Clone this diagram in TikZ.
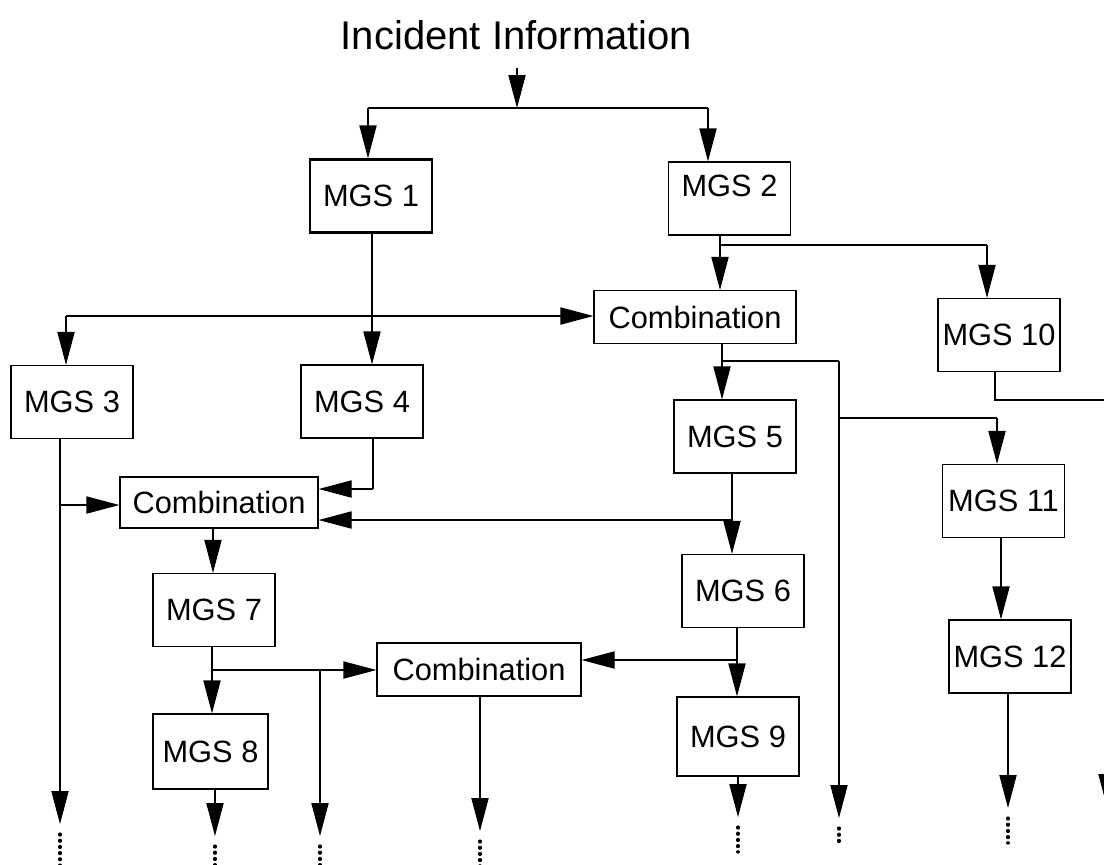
\documentclass[tikz,border=0pt]{standalone}
\usepackage{fontspec}
\setmainfont{Liberation Sans}
\usetikzlibrary{arrows.meta}
\begin{document}
\begin{tikzpicture}[x=0.5pt,y=-0.5pt,
  box/.style={draw, line width=0.6pt, inner sep=0pt, align=center,
    font=\fontsize{15.4}{18}\selectfont},
  wbox/.style={box, minimum width=61pt, minimum height=36.5pt},
  cbox/.style={box, minimum width=101pt, minimum height=26.5pt},
  wire/.style={line width=0.6pt},
  arr/.style={wire, -{Triangle[length=16.5pt,width=8.6pt]}},
  trail/.style={line width=1.6pt, line cap=round, dash pattern=on 0.5pt off 2.6pt}]
\useasboundingbox (0,0) rectangle (1104,864);
\clip (0,0) rectangle (1104,864);
\fill[white] (0,0) rectangle (1104,864);

% title
\node[anchor=base, font=\fontsize{20}{24}\selectfont, inner sep=0pt] (title) at (516.5,49) {Incident Information};

% blocks
\node[wbox, line width=1.1pt] (m1) at (371,196) {MGS 1};
\node[wbox, text depth=13pt] (m2) at (729.5,198.5) {MGS 2};
\node[cbox] (c2) at (695,317) {Combination};
\node[wbox] (m10) at (999,335) {MGS 10};
\node[wbox] (m3) at (72,402) {MGS 3};
\node[wbox] (m4) at (362,401.5) {MGS 4};
\node[wbox] (m5) at (735,436.5) {MGS 5};
\node[cbox, minimum width=99pt, minimum height=25.5pt] (c1) at (219,502.5) {Combination};
\node[wbox] (m11) at (1003.5,501) {MGS 11};
\node[wbox] (m6) at (743,591) {MGS 6};
\node[wbox] (m7) at (214,610) {MGS 7};
\node[cbox, minimum width=102pt] (c3) at (479,669.5) {Combination};
\node[wbox] (m12) at (1010,656.5) {MGS 12};
\node[wbox, minimum width=57.5pt, minimum height=37.5pt] (m8) at (210.5,751.5) {MGS 8};
\node[wbox, minimum height=39.5pt] (m9) at (738,736.5) {MGS 9};

% junction points and free ends
\coordinate (t0) at (517,68);
\coordinate (tl) at (368,108);
\coordinate (tr) at (708,108);
\coordinate (tm) at (517,108);
\coordinate (h1l) at (66,316);
\coordinate (x14) at (372,0);
\coordinate (x2) at (720,0);
\coordinate (j2) at (720,245);
\coordinate (j10) at (987,245);
\coordinate (xc2) at (722,0);
\coordinate (jc2) at (722,361);
\coordinate (v1) at (839,361);
\coordinate (v1a) at (839,418);
\coordinate (j11) at (997,418);
\coordinate (e1) at (839,818);
\coordinate (x10) at (995,0);
\coordinate (k10) at (995,400);
\coordinate (k10r) at (1107,400);
\coordinate (e10) at (1107,807);
\coordinate (x11) at (1001,0);
\coordinate (x12) at (1008,0);
\coordinate (e12) at (1008,808);
\coordinate (x5) at (732,0);
\coordinate (j5) at (732,520);
\coordinate (x6) at (737,0);
\coordinate (j6) at (737,660);
\coordinate (x9) at (738,0);
\coordinate (e9) at (738,817);
\coordinate (x3) at (60,0);
\coordinate (j3) at (60,505);
\coordinate (e3) at (60,824);
\coordinate (x4) at (373,0);
\coordinate (k4) at (373,489);
\coordinate (xc1) at (213,0);
\coordinate (x7) at (212,0);
\coordinate (j7) at (212,670);
\coordinate (v7) at (320,670);
\coordinate (e7) at (320,836);
\coordinate (x8) at (215,0);
\coordinate (e8) at (215,836);
\coordinate (xc3) at (480,0);
\coordinate (ec3) at (480,831);

% title fan-out
\draw[arr] (t0) -- (tm);
\draw[wire] (tl) -- (tr);
\draw[arr] (tl) -- (tl |- m1.north);
\draw[arr] (tr) -- (tr |- m2.north);

% MGS 1 branch
\draw[arr] (x14 |- m1.south) -- (x14 |- m4.north);
\draw[arr] (h1l) -- (c2.west |- h1l);
\draw[arr] (h1l) -- (h1l |- m3.north);

% MGS 2 branch
\draw[arr] (x2 |- m2.south) -- (x2 |- c2.north);
\draw[wire] (j2) -- (j10);
\draw[arr] (j10) -- (j10 |- m10.north);

% upper combination
\draw[arr] (xc2 |- c2.south) -- (xc2 |- m5.north);
\draw[wire] (jc2) -- (v1);
\draw[arr] (v1) -- (e1);
\draw[trail] ([yshift=-5pt]e1) -- (839,846);
\draw[wire] (v1a) -- (j11);
\draw[arr] (j11) -- (j11 |- m11.north);

% MGS 10 .. MGS 12
\draw[wire] (x10 |- m10.south) -- (k10) -- (k10r);
\draw[arr] (k10r) -- (e10);
\draw[trail] ([yshift=-5pt]e10) -- (1107,850);
\draw[arr] (x11 |- m11.south) -- (x11 |- m12.north);
\draw[arr] (x12 |- m12.south) -- (e12);
\draw[trail] ([yshift=-5pt]e12) -- (1008,843);

% MGS 5, 6, 9
\draw[arr] (x5 |- m5.south) -- (x5 |- m6.north);
\draw[arr] (j5) -- (c1.east |- j5);
\draw[arr] (x6 |- m6.south) -- (x6 |- m9.north);
\draw[arr] (j6) -- (c3.east |- j6);
\draw[arr] (x9 |- m9.south) -- (e9);
\draw[trail] ([yshift=-5pt]e9) -- (738,852);

% MGS 3, 4 into the left combination
\draw[arr] (x3 |- m3.south) -- (e3);
\draw[trail] ([yshift=-5pt]e3) -- (60,868);
\draw[arr] (j3) -- (c1.west |- j3);
\draw[wire] (x4 |- m4.south) -- (k4);
\draw[arr] (k4) -- (c1.east |- k4);

% left combination and MGS 7, 8
\draw[arr] (xc1 |- c1.south) -- (xc1 |- m7.north);
\draw[arr] (x7 |- m7.south) -- (x7 |- m8.north);
\draw[wire] (j7) -- (v7);
\draw[arr] (v7) -- (c3.west |- v7);
\draw[arr] (v7) -- (e7);
\draw[trail] ([yshift=-5pt]e7) -- (320,868);
\draw[arr] (x8 |- m8.south) -- (e8);
\draw[trail] ([yshift=-5pt]e8) -- (215,868);

% lower combination
\draw[arr] (xc3 |- c3.south) -- (ec3);
\draw[trail] ([yshift=-5pt]ec3) -- (480,868);
\end{tikzpicture}
\end{document}
